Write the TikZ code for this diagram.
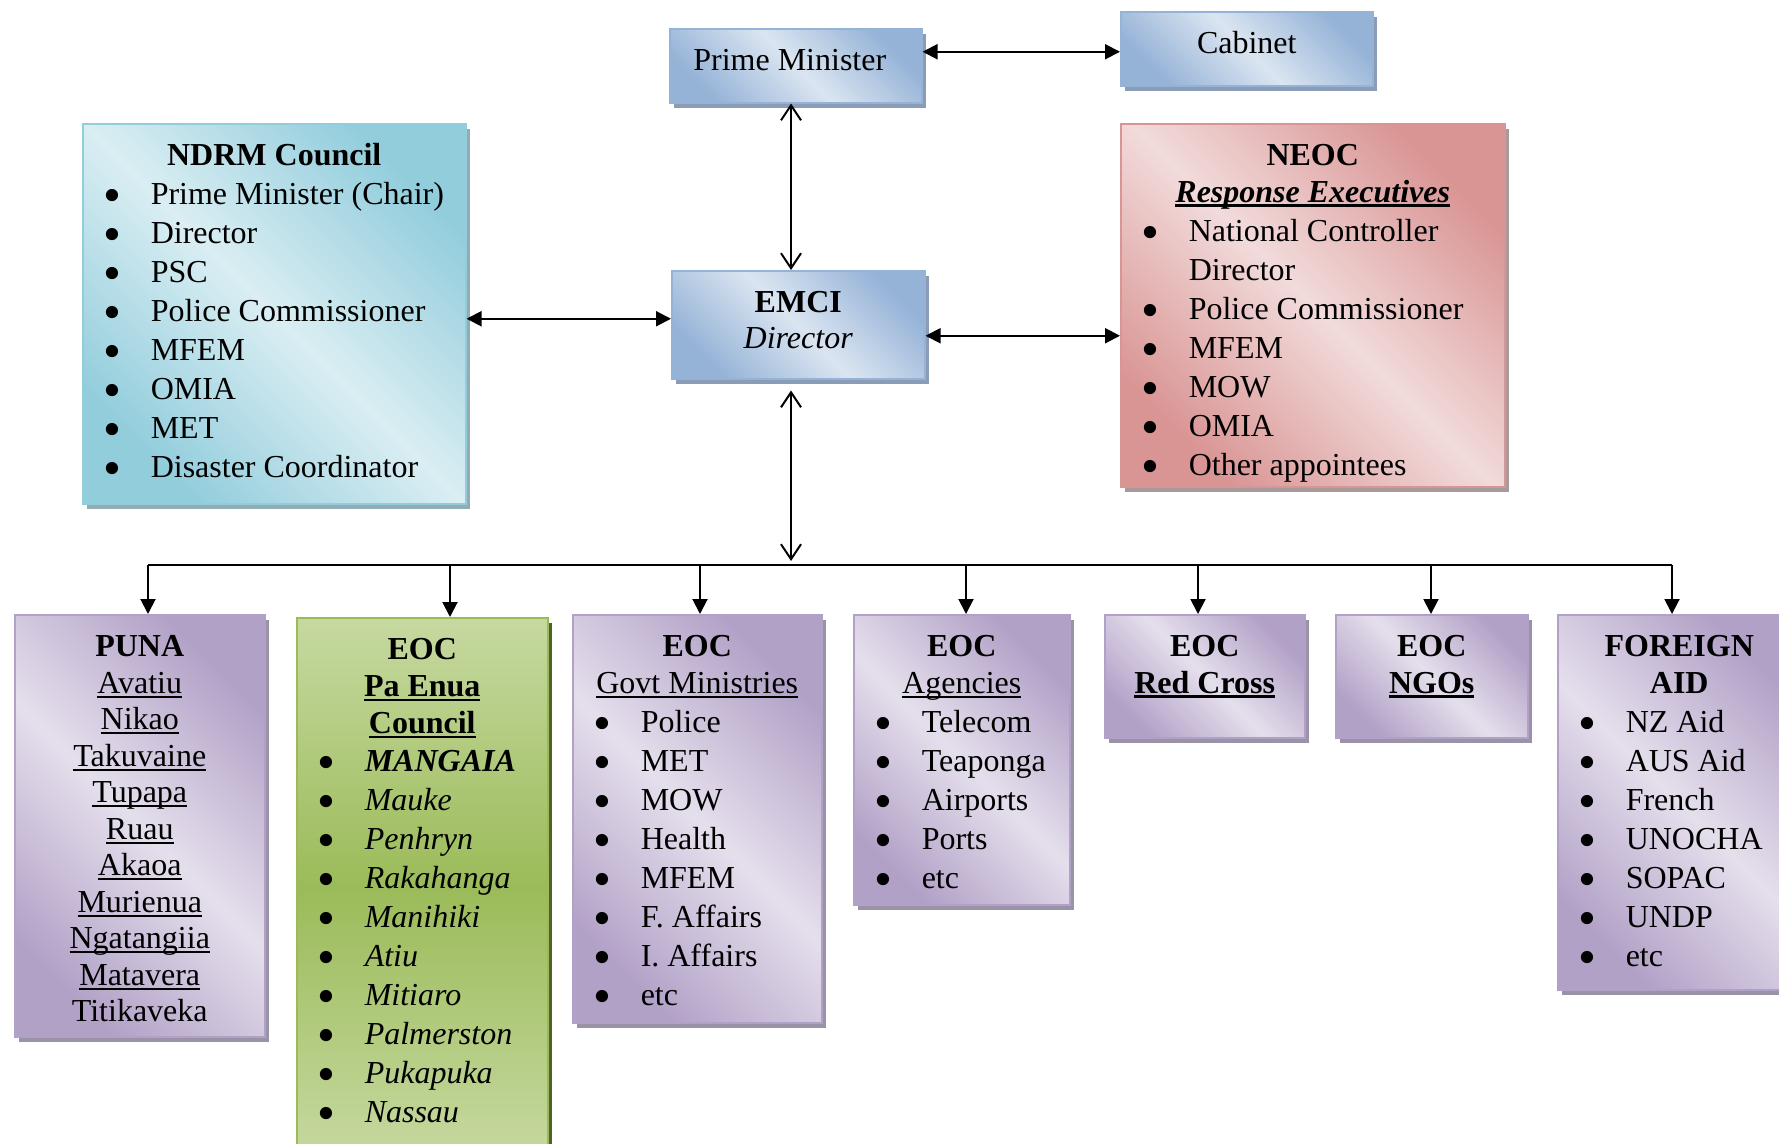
\documentclass[tikz,border=0pt]{standalone}
\usepackage{fontspec}
\usepackage{graphicx}
\setmainfont{Liberation Serif}
\usetikzlibrary{arrows.meta,shadows}

% box colours
\definecolor{bluedk}{HTML}{95B3D7}
\definecolor{bluelt}{HTML}{DBE5F1}
\definecolor{cyandk}{HTML}{92CDDC}
\definecolor{cyanlt}{HTML}{DAEEF3}
\definecolor{reddk}{HTML}{D99594}
\definecolor{redlt}{HTML}{F2DBDB}
\definecolor{purpdk}{HTML}{B2A1C7}
\definecolor{purplt}{HTML}{E5DFEC}
\definecolor{grndk}{HTML}{9BBB59}
\definecolor{grnlt}{HTML}{C6D9A0}
% shadow colours
\definecolor{bshd}{HTML}{8A9CB6}
\definecolor{cshd}{HTML}{93ABB3}
\definecolor{rshd}{HTML}{A89A9A}
\definecolor{pshd}{HTML}{9A93A8}
\definecolor{gshd}{HTML}{4F6228}

\newcommand\bxfont{\fontsize{32}{39}\selectfont}
\newlength\ulnw
\newcommand\uln[2][1.8pt]{\leavevmode\settowidth\ulnw{#2}\rlap{\rule[-4.5pt]{\ulnw}{#1}}#2}
\newcommand\blt{\smash{\raisebox{-8pt}{\scalebox{1.6}{\textbullet}}}}
\newcommand\itm[1]{\makebox[\linewidth][l]{\hspace*{21pt}\makebox[47pt][l]{\blt}#1}}
\newcommand\cont[1]{\makebox[\linewidth][l]{\hspace*{68pt}#1}}
\newcommand\bxtxt[3]{\parbox[c][#2][t]{#1}{\centering\vspace*{14.7pt}\strut#3}}

\begin{document}
\begin{tikzpicture}[x=1pt, y=-1pt,
    orgbox/.style 2 args={draw=#1dk, line width=1.5pt,
        top color=#1dk, bottom color=#1dk, middle color=#1lt, shading angle=-45,
        drop shadow={shadow xshift=4pt, shadow yshift=-5pt, fill=#2, opacity=1},
        inner sep=0pt, anchor=north west, font=\bxfont},
    fa/.style={line width=2pt, >={Triangle[length=15pt,width=15pt]}, <->},
    down/.style={line width=2pt, >={Triangle[length=15pt,width=15pt]}, ->},
    oa/.style={line width=2pt, >={Straight Barb[length=15pt,width=20pt]}, <->},
    bus/.style={line width=2pt}]
    \useasboundingbox (0,0) rectangle (1779,1143);

    % Top level
    \node[orgbox={blue}{bshd}] (pm) at (669,28) {\bxtxt{240pt}{74pt}{Prime Minister}\hspace*{12pt}};
    \node[orgbox={blue}{bshd}] (cab) at (1120,11) {\bxtxt{252pt}{74pt}{Cabinet}};
    \node[orgbox={blue}{bshd}] (emci) at (671,270) {\bxtxt{253pt}{108pt}{\textbf{EMCI}\\[-3pt] \textit{Director}}};

    % NDRM Council
    \node[orgbox={cyan}{cshd}] (ndrm) at (82,123) {\bxtxt{383pt}{380pt}{\textbf{NDRM Council}\\
        \itm{Prime Minister (Chair)}\\ \itm{Director}\\ \itm{PSC}\\ \itm{Police Commissioner}\\
        \itm{MFEM}\\ \itm{OMIA}\\ \itm{MET}\\ \itm{Disaster Coordinator}}};

    % NEOC
    \node[orgbox={red}{rshd}] (neoc) at (1120,123) {\bxtxt{384pt}{363pt}{\textbf{NEOC}\\[-2.5pt]
        \uln[2.5pt]{\textbf{\textit{Response Executives}}}\\
        \itm{National Controller}\\ \cont{Director}\\ \itm{Police Commissioner}\\
        \itm{MFEM}\\ \itm{MOW}\\ \itm{OMIA}\\ \itm{Other appointees}}};

    % EOCs
    \node[orgbox={purp}{pshd}] (puna) at (14,614) {\bxtxt{250pt}{422pt}{\textbf{PUNA}\\[-2.5pt]
        \uln{Avatiu}\\[-2.5pt] \uln{Nikao}\\[-2.5pt] \uln{Takuvaine}\\[-2.5pt] \uln{Tupapa}\\[-2.5pt]
        \uln{Ruau}\\[-2.5pt] \uln{Akaoa}\\[-2.5pt] \uln{Murienua}\\[-2.5pt] \uln{Ngatangiia}\\[-2.5pt]
        \uln{Matavera}\\[-2.5pt] Titikaveka}};
    \node[orgbox={grn}{gshd}, top color=grnlt, bottom color=grnlt, middle color=grndk, shading angle=0]
        (paenua) at (296,617) {\bxtxt{251pt}{540pt}{\textbf{EOC}\\[-2pt]
        \uln[2.5pt]{\textbf{Pa Enua}}\\[-2pt] \uln[2.5pt]{\textbf{Council}}\\[-1pt]
        \itm{\textbf{\textit{MANGAIA}}}\\ \itm{\textit{Mauke}}\\ \itm{\textit{Penhryn}}\\
        \itm{\textit{Rakahanga}}\\ \itm{\textit{Manihiki}}\\ \itm{\textit{Atiu}}\\ \itm{\textit{Mitiaro}}\\
        \itm{\textit{Palmerston}}\\ \itm{\textit{Pukapuka}}\\ \itm{\textit{Nassau}}}};
    \node[orgbox={purp}{pshd}] (govt) at (572,614) {\bxtxt{249pt}{408pt}{\textbf{EOC}\\[-2.5pt]
        \uln{Govt Ministries}\\ \itm{Police}\\ \itm{MET}\\ \itm{MOW}\\ \itm{Health}\\
        \itm{MFEM}\\ \itm{F. Affairs}\\ \itm{I. Affairs}\\ \itm{etc}}};
    \node[orgbox={purp}{pshd}] (agen) at (853,614) {\bxtxt{216pt}{290pt}{\textbf{EOC}\\[-2.5pt]
        \uln{Agencies}\\ \itm{Telecom}\\ \itm{Teaponga}\\ \itm{Airports}\\ \itm{Ports}\\ \itm{etc}}};
    \node[orgbox={purp}{pshd}] (redx) at (1104,614) {\bxtxt{200pt}{123pt}{\textbf{EOC}\\[-2.5pt]
        \uln[2.5pt]{\textbf{Red Cross}}}};
    \node[orgbox={purp}{pshd}] (ngo) at (1335,614) {\bxtxt{192pt}{123pt}{\textbf{EOC}\\[-2.5pt]
        \uln[2.5pt]{\textbf{NGOs}}}};
    \node[orgbox={purp}{pshd}] (fgn) at (1557,614) {\bxtxt{243pt}{375pt}{\textbf{FOREIGN}\\[-2.5pt]
        \textbf{AID}\\ \itm{NZ Aid}\\ \itm{AUS Aid}\\ \itm{French}\\ \itm{UNOCHA}\\
        \itm{SOPAC}\\ \itm{UNDP}\\ \itm{etc}}};

    % Bus points
    \coordinate (b1) at (148,565);
    \coordinate (b2) at (450,565);
    \coordinate (b3) at (700,565);
    \coordinate (b4) at (966,565);
    \coordinate (b5) at (1198,565);
    \coordinate (b6) at (1431,565);
    \coordinate (b7) at (1672,565);
    \coordinate (bm) at (791,565);
    \coordinate (cabin) at ([yshift=-3pt]cab.west);
    \coordinate (ndin) at ([yshift=-5pt]ndrm.east);
    \coordinate (neoin) at ([yshift=-11pt]emci.east);

    % Links
    \draw[fa] (pm.east |- cabin) -- (cabin);
    \draw[fa] (ndin) -- (ndin -| emci.west);
    \draw[fa] (neoin) -- (neoin -| neoc.west);
    \draw[oa] (pm.south -| bm) -- (emci.north -| bm);
    \draw[oa, shorten <=11pt, shorten >=4pt] (emci.south -| bm) -- (bm);

    % Bus
    \draw[bus] (b1) -- (b7);
    \draw[down] (b1) -- (b1 |- puna.north);
    \draw[down] (b2) -- (b2 |- paenua.north);
    \draw[down] (b3) -- (b3 |- govt.north);
    \draw[down] (b4) -- (b4 |- agen.north);
    \draw[down] (b5) -- (b5 |- redx.north);
    \draw[down] (b6) -- (b6 |- ngo.north);
    \draw[down] (b7) -- (b7 |- fgn.north);
\end{tikzpicture}
\end{document}
